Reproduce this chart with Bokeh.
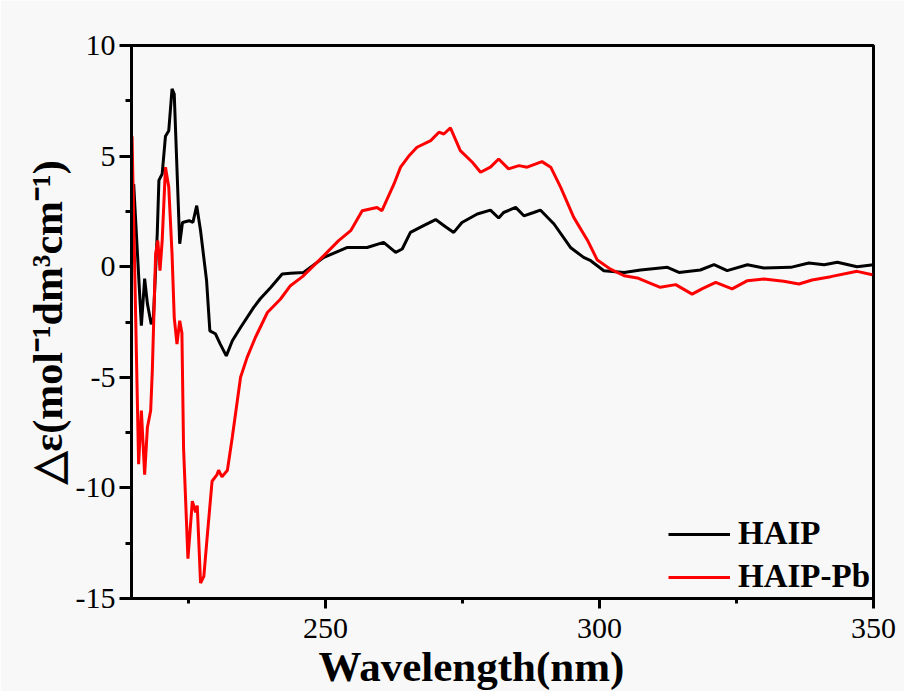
from bokeh.plotting import figure
from bokeh.models import Range1d, FixedTicker, SingleIntervalTicker, Title
from bokeh.embed import file_html
from bokeh.resources import INLINE

# HAIP (black)
haip_x = [215.0, 216.4, 217.0, 217.5, 218.2, 218.6, 219.3, 219.6, 220.2, 220.8, 221.4, 222.0, 222.4,
          223.4, 223.9, 225.1, 225.8, 226.5, 227.2, 228.3, 228.9, 229.9, 230.8, 231.9, 233.0, 234.5,
          236.9, 238.1, 240.0, 242.1, 243.6, 246.0, 249.7, 254.0, 257.6, 260.6, 262.8, 264.0, 265.5,
          267.9, 270.1, 271.9, 273.4, 274.9, 277.7, 280.1, 281.6, 282.5, 284.7, 286.2, 288.0, 289.2,
          291.7, 294.7, 297.1, 298.4, 300.8, 304.5, 307.5, 312.4, 314.5, 318.4, 320.9, 323.3, 327.0,
          330.0, 334.9, 338.2, 341.0, 343.4, 347.0, 350.0]
haip_y = [3.74, -2.67, -0.54, -1.67, -2.6, -2.3, 1.5, 3.9, 4.2, 5.9, 6.15, 8.04, 7.8,
          1.04, 2.0, 2.08, 2.0, 2.76, 1.63, -0.63, -2.9, -3.03, -3.5, -4.03, -3.35, -2.75,
          -1.84, -1.45, -0.94, -0.33, -0.3, -0.26, 0.42, 0.87, 0.87, 1.1, 0.65, 0.8, 1.55,
          1.86, 2.13, 1.81, 1.55, 2.0, 2.38, 2.56, 2.2, 2.45, 2.68, 2.3, 2.45, 2.56,
          1.93, 0.87, 0.42, 0.27, -0.18, -0.26, -0.15, -0.03, -0.26, -0.15, 0.09, -0.18, 0.09,
          -0.06, -0.03, 0.17, 0.09, 0.2, 0.0, 0.09]

# HAIP-Pb (red)
pb_x = [214.7, 215.9, 216.4, 217.0, 217.5, 218.1, 218.4, 219.0, 219.4, 219.8, 220.2, 220.8, 221.4,
        222.0, 222.4, 222.9, 223.4, 223.8, 224.1, 224.9, 225.7, 226.3, 226.6, 227.2, 227.8, 228.4,
        229.3, 230.2, 230.5, 231.1, 232.1, 233.0, 234.5, 235.7, 237.2, 239.4, 241.8, 243.6, 245.8,
        249.7, 252.4, 254.6, 256.7, 259.4, 260.3, 262.5, 263.7, 265.2, 266.7, 269.2, 270.7, 271.6,
        272.8, 274.6, 276.8, 278.3, 280.1, 281.6, 283.4, 285.3, 286.8, 289.5, 291.1, 292.9, 295.3,
        297.8, 299.6, 302.0, 304.5, 306.9, 309.3, 311.1, 313.9, 316.9, 318.7, 321.2, 324.2, 327.0,
        330.0, 333.6, 336.4, 338.8, 342.2, 347.0, 349.8]
pb_y = [5.9, -8.93, -6.5, -9.4, -7.27, -6.5, -4.7, 0.57, 1.18, -0.18, 1.18, 4.5, 3.6,
        0.57, -2.3, -3.5, -2.44, -3.0, -8.2, -13.2, -10.6, -11.1, -10.8, -14.3, -14.0, -12.25,
        -9.7, -9.4, -9.2, -9.5, -9.2, -7.7, -5.0, -4.1, -3.2, -2.07, -1.46, -0.86, -0.45,
        0.5, 1.18, 1.63, 2.53, 2.68, 2.53, 3.74, 4.5, 5.0, 5.4, 5.7, 6.08, 6.0,
        6.28, 5.25, 4.72, 4.27, 4.5, 4.87, 4.42, 4.57, 4.5, 4.75, 4.5, 3.6, 2.23,
        1.2, 0.3, -0.11, -0.41, -0.51, -0.75, -0.93, -0.81, -1.24, -1.0, -0.71, -1.0, -0.63,
        -0.56, -0.66, -0.78, -0.6, -0.45, -0.21, -0.36]

x_major = [250, 300, 350]
x_minor = [225, 275, 325]
y_tick_labels = {-15: "-15", -10: "-10", -5: "-5", 0: "0", 5: "5", 10: "10"}
series_names = ["HAIP", "HAIP-Pb"]
x_title = "Wavelength(nm)"
y_title = "\u25b3\u03b5(mol\u207b\u00b9dm\u00b3cm\u207b\u00b9)"

FONT = "Liberation Serif"
BG = "#f8f8f8"

p = figure(width=904, height=691, output_backend="svg", toolbar_location=None,
           x_range=Range1d(214.6, 350), y_range=Range1d(-15, 10),
           min_border_left=131, min_border_right=31, min_border_top=45, min_border_bottom=93)
p.background_fill_color = BG
p.border_fill_color = BG
p.xgrid.visible = False
p.ygrid.visible = False
p.outline_line_color = "black"
p.outline_line_width = 3

p.line(haip_x, haip_y, line_color="black", line_width=3, legend_label=series_names[0])
p.line(pb_x, pb_y, line_color="#ff0000", line_width=3, legend_label=series_names[1])

for ax in (p.xaxis[0], p.yaxis[0]):
    ax.axis_line_width = 3
    ax.axis_line_color = "black"
    ax.major_tick_line_width = 3
    ax.minor_tick_line_width = 3
    ax.major_tick_in = 0
    ax.minor_tick_in = 0
    ax.major_label_text_font = FONT
    ax.major_label_text_font_size = "30px"
    ax.major_label_text_color = "black"

p.xaxis[0].ticker = FixedTicker(ticks=x_major, minor_ticks=x_minor)
p.xaxis[0].major_tick_out = 10
p.xaxis[0].minor_tick_out = 5
p.xaxis[0].major_label_standoff = 10

p.yaxis[0].ticker = SingleIntervalTicker(interval=5, num_minor_ticks=2)
p.yaxis[0].major_label_overrides = y_tick_labels
p.yaxis[0].major_tick_out = 12
p.yaxis[0].minor_tick_out = 6
p.yaxis[0].major_label_standoff = 4
p.yaxis[0].axis_label = y_title
p.yaxis[0].axis_label_text_font = FONT
p.yaxis[0].axis_label_text_font_size = "42px"
p.yaxis[0].axis_label_text_font_style = "bold"
p.yaxis[0].axis_label_text_color = "black"
p.yaxis[0].axis_label_standoff = 2

xt = Title(text=x_title, align="left", offset=187, standoff=0,
           text_font=FONT, text_font_size="43px", text_font_style="bold", text_color="black")
p.add_layout(xt, "below")

lg = p.legend[0]
lg.location = "bottom_right"
lg.margin = 3
lg.padding = 0
lg.spacing = 6
lg.border_line_alpha = 0
lg.background_fill_alpha = 0
lg.glyph_width = 62
lg.glyph_height = 20
lg.label_standoff = 8
lg.label_text_font = FONT
lg.label_text_font_size = "33px"
lg.label_text_font_style = "bold"
lg.label_text_color = "black"

open("out.html", "w").write(file_html(p, INLINE))
